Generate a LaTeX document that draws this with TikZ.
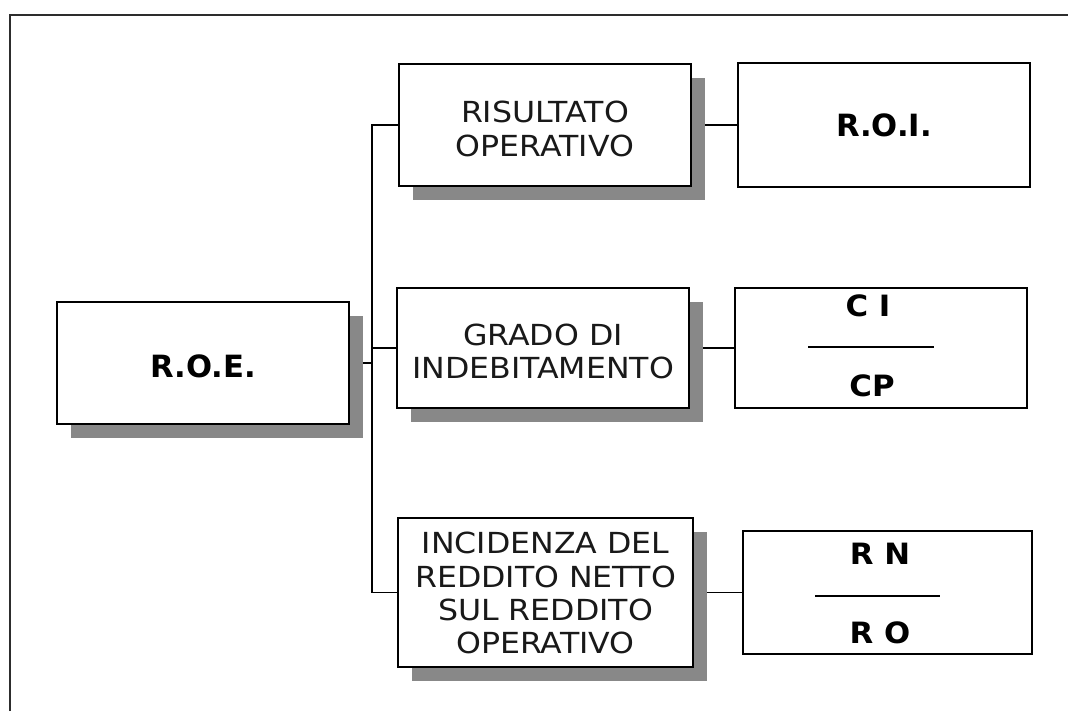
\documentclass[tikz,border=0pt]{standalone}
\usepackage{fontspec}
\setmainfont{DejaVu Sans}[FakeStretch=1.09]
\newfontfamily\fracfont{DejaVu Sans}[FakeStretch=1.05]
\newfontfamily\bigfont{DejaVu Sans}
\usetikzlibrary{shadows,backgrounds,calc}
\definecolor{shadowgray}{RGB}{136,136,136}
\definecolor{framegray}{RGB}{45,45,45}
\definecolor{textgray}{RGB}{25,25,25}
\tikzset{
  boxbase/.style={draw=black, line width=1.6pt, fill=white, rectangle, inner sep=0pt, anchor=center,
    drop shadow={shadow xshift=10.5pt, shadow yshift=-10.5pt, fill=shadowgray, opacity=1}},
  plainbox/.style={draw=black, line width=1.6pt, fill=white, rectangle, inner sep=0pt, anchor=center},
  lbl/.style={align=center, text=textgray, font=\fontsize{21.75}{25}\selectfont},
  biglbl/.style={font=\bigfont\bfseries\fontsize{23}{28}\selectfont},
  fractxt/.style={inner sep=0pt, font=\fracfont\bfseries\fontsize{22}{25}\selectfont},
  conn/.style={line width=1.4pt, black},
  fracline/.style={line width=1.3pt, black}
}
\begin{document}
\begin{tikzpicture}[x=0.75pt,y=-0.75pt]
\useasboundingbox (0,0) rectangle (1068,711);
% frame
\draw[line width=2pt, framegray] (10,711) -- (10,15) -- (1068,15);

% boxes
\node[boxbase, minimum width=219pt, minimum height=91.5pt] (ROE) at (203,363) {};
\node[biglbl] (ROEt) at ([yshift=-2.5pt]ROE.center) {R.O.E.};
\node[boxbase, minimum width=219pt, minimum height=91.5pt] (RIS) at (545,125) {};
\node[lbl] (RISt) at ([yshift=-3pt]RIS.center) {RISULTATO\\OPERATIVO};
\node[plainbox, biglbl, minimum width=219pt, minimum height=92.5pt] (ROI) at (884,125) {R.O.I.};
\node[boxbase, minimum width=219pt, minimum height=90pt] (GRA) at (543,348) {};
\node[lbl] (GRAt) at ([yshift=-2.5pt]GRA.center) {GRADO DI\\INDEBITAMENTO};
\node[plainbox, minimum width=219pt, minimum height=90pt] (CICP) at (881,348) {};
\node[boxbase, minimum width=221pt, minimum height=111.75pt] (INC) at (545.5,592.5) {};
\node[lbl] (INCt) at ([yshift=-0.5pt]INC.center) {INCIDENZA DEL\\REDDITO NETTO\\SUL REDDITO\\OPERATIVO};
\node[plainbox, minimum width=216.75pt, minimum height=92.25pt] (RNRO) at (887.5,592.5) {};

% fractions
\node[fractxt] (ci) at (868,306) {C I};
\node[fractxt] (cp) at (872,386) {CP};
\draw[fracline] (808,347) -- (934,347);
\node[fractxt] (rn) at (880,554) {R N};
\node[fractxt] (ro) at (880,633) {R O};
\draw[fracline] (815,596) -- (940,596);

% connectors
\coordinate (sp) at (372,0);
\begin{pgfonlayer}{background}
\fill[white] (0,0) rectangle (1068,711);
\draw[conn] (RIS.west) -| (sp |- INC.west) -- (INC.west);
\draw[conn] (GRA.west) -- (GRA.west -| sp);
\draw[conn] (ROE.east) -- (ROE.east -| sp);
\draw[conn] (RIS.east) -- (ROI.west);
\draw[conn] (GRA.east) -- (CICP.west);
\draw[conn] (INC.east) -- (RNRO.west);
\end{pgfonlayer}
\end{tikzpicture}
\end{document}
